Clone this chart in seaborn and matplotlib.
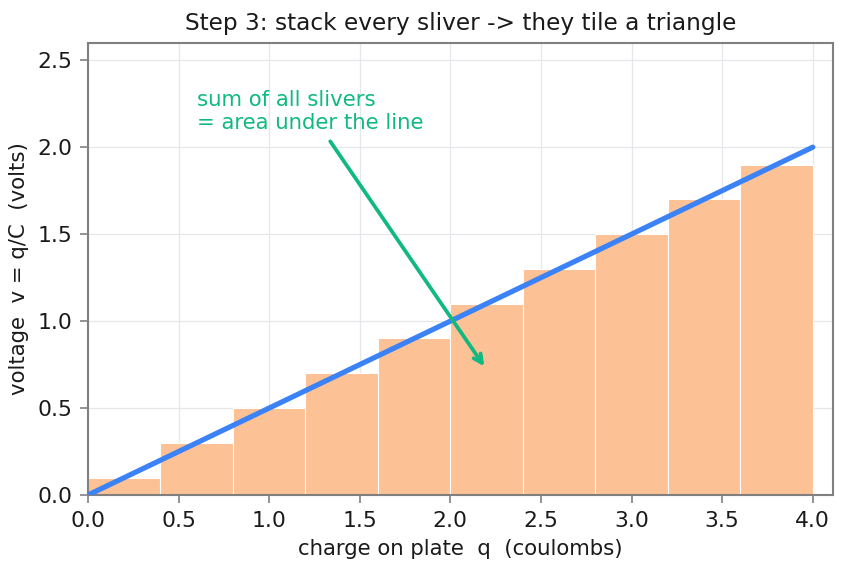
import matplotlib
matplotlib.use("Agg")
import matplotlib.pyplot as plt
import numpy as np
import pandas as pd
import seaborn as sns

# slivers: left edge of each strip and its (midpoint) voltage
q_left = [0.0, 0.4, 0.8, 1.2, 1.6, 2.0, 2.4, 2.8, 3.2, 3.6]
v_sliver = [0.1, 0.3, 0.5, 0.7, 0.9, 1.1, 1.3, 1.5, 1.7, 1.9]
q_line = [0.0, 4.0]
v_line = [0.0, 2.0]

sns.set_theme(style="whitegrid", rc={
    "axes.edgecolor": "#808080",
    "axes.linewidth": 1.0,
    "grid.color": "#e5e7eb",
    "grid.linewidth": 0.6,
    "xtick.bottom": True,
    "ytick.left": True,
    "xtick.color": "#808080",
    "ytick.color": "#808080",
    "xtick.labelcolor": "#1a1a1a",
    "ytick.labelcolor": "#1a1a1a",
    "text.color": "#1a1a1a",
    "axes.labelcolor": "#1a1a1a",
})

fig, ax = plt.subplots(figsize=(5.747, 3.807), dpi=150)

ax.bar(q_left, v_sliver, width=0.4, align="edge", color="#fdc196",
       edgecolor="white", linewidth=0.5, zorder=2)
df = pd.DataFrame({"q": q_line, "v": v_line})
sns.lineplot(data=df, x="q", y="v", color="#3b82f6", linewidth=2.5, ax=ax, zorder=3)

ax.annotate("sum of all slivers\n= area under the line", xy=(2.2, 0.72), xytext=(0.6, 2.08),
            color="#10b981", fontsize=10.2, ha="left", va="bottom",
            arrowprops=dict(arrowstyle="->", color="#10b981", lw=1.8), zorder=4)

ax.set_xlim(0, 4.11)
ax.set_ylim(0, 2.6)
ax.set_xticks(np.arange(0, 4.01, 0.5))
ax.set_yticks(np.arange(0, 2.51, 0.5))
ax.tick_params(labelsize=10.5, length=4, width=0.8)
ax.set_xlabel("charge on plate  q  (coulombs)", fontsize=10.2)
ax.set_ylabel("voltage  v = q/C  (volts)", fontsize=10.2)
ax.set_title("Step 3: stack every sliver -> they tile a triangle", fontsize=11.2)

fig.subplots_adjust(left=0.102, right=0.966, top=0.925, bottom=0.133)
fig.savefig("out.png", dpi=150)
